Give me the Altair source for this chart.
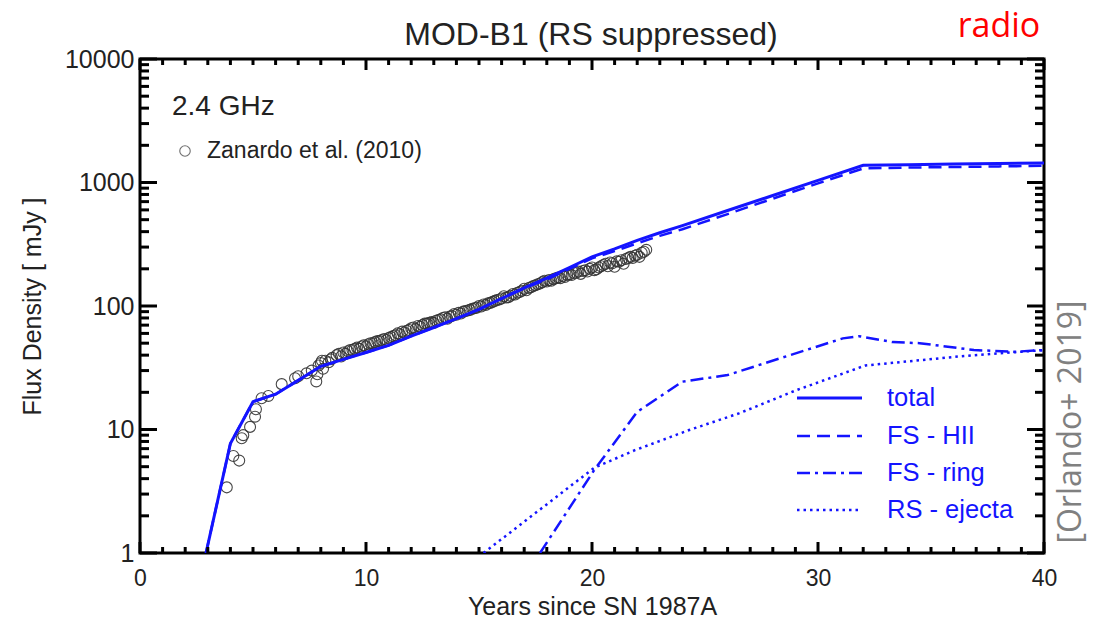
import altair as alt
import pandas as pd

# ---------------- data ----------------
zan_year = [3.84, 4.13, 4.39, 4.50, 4.57, 4.87, 5.09, 5.13, 5.38, 5.68, 6.27, 6.86, 7.0, 7.37,
            7.6, 7.8, 7.85, 7.9, 8.0, 8.1, 8.2, 8.35, 8.5, 8.7, 8.9, 9.0, 9.2, 9.4, 9.6, 9.7, 9.9,
            10.1, 10.2, 10.4, 10.6, 10.8, 10.9, 11.1, 11.3, 11.5, 11.6, 11.8, 12.0, 12.2, 12.3,
            12.5, 12.7, 12.9, 13.0, 13.2, 13.4, 13.6, 13.8, 14.0, 14.1, 14.3, 14.5, 14.7, 14.9,
            15.0, 15.2, 15.4, 15.6, 15.8, 16.0, 16.1, 16.3, 16.5, 16.7, 16.9, 17.0, 17.2, 17.4,
            17.6, 17.8, 17.9, 18.1, 18.3, 18.5, 18.7, 18.8, 19.0, 19.2, 19.4, 19.5, 19.7, 19.9,
            20.0, 20.2, 20.4, 20.6, 20.8, 21.0, 21.1, 21.3, 21.5, 21.7, 21.8, 22.0, 22.2, 22.4]
zan_flux = [3.4, 6.1, 5.6, 8.5, 9.0, 10.5, 12.7, 14.6, 17.9, 18.7, 23.3, 26, 27, 28.5,
            30, 24.5, 28, 33, 34.5, 31, 36, 35, 38, 40, 39, 42, 43, 44, 46, 45, 48,
            49, 50, 51, 52, 54, 53, 56, 58, 59, 62, 63, 66, 65, 69,
            70, 72, 74, 73, 77, 80, 79, 83, 85, 88, 90, 92, 95, 97,
            100, 103, 105, 108, 112, 115, 120, 118, 125, 128, 133, 138, 140, 145,
            150, 156, 160, 162, 165, 170, 175, 172, 180, 185, 190, 182, 195, 200,
            205, 198, 210, 220, 225, 208, 230, 235, 240, 250, 245, 260, 270, 285]
# further epochs of the same data set (dense middle part of the light curve)
zan_year2 = [8.05, 8.45, 8.8, 9.1, 9.3, 9.5, 9.8, 10.0, 10.3, 10.5,
             10.7, 11.0, 11.2, 11.4, 11.7, 11.9, 12.1, 12.4, 12.6, 12.8,
             13.1, 13.3, 13.5, 13.7, 13.9, 14.2, 14.4, 14.6, 14.8, 15.1,
             15.3, 15.5, 15.7, 15.9, 16.2, 16.4, 16.6, 16.8, 17.1, 17.3,
             17.5, 17.7, 18.0, 18.2, 18.4, 18.6, 18.9, 19.1, 19.3, 19.6,
             19.8, 20.1, 20.3, 20.5, 20.7, 20.9, 21.2, 21.4, 21.6, 21.9,
             22.1, 22.3]
zan_flux2 = [36, 37, 41, 41, 44, 45, 47, 47, 50, 52,
             53, 55, 57, 60, 61, 64, 67, 68, 72, 73,
             76, 78, 81, 82, 86, 87, 91, 93, 96, 99,
             102, 106, 110, 113, 117, 121, 124, 130, 134, 142,
             147, 152, 158, 160, 168, 168, 178, 178, 186, 192,
             190, 195, 205, 215, 210, 222, 228, 220, 245, 255,
             250, 275]

model_year = [2.92, 4.0, 5.0, 6.0, 7.0, 8.0, 9.0, 10.0, 11.0, 12.0, 13.0, 14.0, 15.0, 16.0,
              17.0, 18.0, 19.0, 20.0, 21.0, 22.0, 23.0, 24.0, 26.0, 28.0, 30.0, 32.0, 34.0,
              36.0, 38.0, 40.0]
total_flux = [1, 7.7, 16.8, 19.3, 25, 32.5, 37, 42, 48, 57, 67, 79, 94, 115,
              140, 168, 205, 250, 290, 340, 392, 448, 593, 785, 1040, 1380, 1395,
              1410, 1425, 1440]
hii_flux = [1, 7.7, 16.8, 19.3, 25, 32.5, 37, 42, 48, 57, 67, 79, 94, 115,
            139, 164, 200, 243, 278, 322, 370, 418, 555, 740, 985, 1300, 1320,
            1335, 1350, 1365]

ring_year = [17.7, 20.1, 22.0, 24.0, 26.0, 31.1, 31.8, 33.3, 34.5, 36.9, 38.7, 40.0]
ring_flux = [1, 4.7, 13.9, 24.4, 27.6, 54.7, 57, 51, 50, 44, 42.6, 44]

ej_year = [15.2, 20.1, 21.9, 24.3, 26.5, 29.1, 32.1, 36.2, 40.0]
ej_flux = [1, 4.9, 6.8, 9.9, 13.5, 21, 33, 39, 44]

x_major = [0, 10, 20, 30, 40]
y_major = [1, 10, 100, 1000, 10000]

legend_labels = ["total", "FS - HII", "FS - ring", "RS - ejecta"]

# ---------------- layout constants ----------------
W, H = 904, 494
BLUE = "#1414ff"
FONT = "Liberation Sans"

x_minor = [v for v in range(0, 41) if v % 10 != 0]
y_minor = [m * 10 ** k for k in range(4) for m in range(2, 10)]

xs = alt.Scale(domain=[0, 40], nice=False)
ys = alt.Scale(type="log", domain=[1, 10000], nice=False)

zan = pd.DataFrame({"year": zan_year + zan_year2, "flux": zan_flux + zan_flux2})
model = pd.DataFrame({"year": model_year, "total": total_flux, "hii": hii_flux})
ring = pd.DataFrame({"year": ring_year, "flux": ring_flux})
ej = pd.DataFrame({"year": ej_year, "flux": ej_flux})

base_x = alt.X("year:Q", scale=xs,
               axis=alt.Axis(values=x_major, ticks=False, domain=False, grid=False,
                             labelFlush=False,
                             labelFontSize=23, labelFont=FONT, labelColor="#222",
                             labelPadding=14, title="Years since SN 1987A",
                             titleFont=FONT, titleFontSize=25, titleFontWeight="normal",
                             titleColor="#222", titleY=53, titleBaseline="middle"))

points = alt.Chart(zan).mark_point(shape="circle", filled=False, size=120,
                                   color="#333333", strokeWidth=1.1, opacity=0.9).encode(
    x=base_x,
    y=alt.Y("flux:Q", scale=ys,
            axis=alt.Axis(values=y_major, format="d", ticks=False, domain=False, grid=False,
                          labelFlush=False,
                          labelFontSize=25, labelFont=FONT, labelColor="#222", labelPadding=6,
                          title="Flux Density [ mJy ]", titleFont=FONT, titleFontSize=25,
                          titleFontWeight="normal", titleColor="#222", titleX=-108,
                          titleY=H / 2, titleAngle=-90, titleBaseline="middle",
                          titleAlign="center")),
)

def line(df, ycol, dash, width):
    kw = dict(color=BLUE, strokeWidth=width, clip=True)
    if dash:
        kw["strokeDash"] = dash
    return alt.Chart(df).mark_line(**kw).encode(
        x=alt.X("year:Q", scale=xs), y=alt.Y(f"{ycol}:Q", scale=ys))

l_hii = line(model, "hii", [13, 7], 2.5)
l_total = line(model, "total", None, 3)
l_ring = line(ring, "flux", [13, 5, 3, 5], 2.5)
l_ej = line(ej, "flux", [2.5, 4], 2.5)

# ---------------- inward ticks ----------------
def xticks(vals, length):
    df = pd.DataFrame({"v": vals})
    b = alt.Chart(df).mark_rule(color="black", strokeWidth=3)
    bot = b.encode(x=alt.X("v:Q", scale=xs), y=alt.value(H), y2=alt.value(H - length))
    top = b.encode(x=alt.X("v:Q", scale=xs), y=alt.value(0), y2=alt.value(length))
    return bot + top

def yticks(vals, length):
    df = pd.DataFrame({"v": vals})
    b = alt.Chart(df).mark_rule(color="black", strokeWidth=3)
    left = b.encode(y=alt.Y("v:Q", scale=ys), x=alt.value(0), x2=alt.value(length))
    right = b.encode(y=alt.Y("v:Q", scale=ys), x=alt.value(W), x2=alt.value(W - length))
    return left + right

ticks = xticks(x_major, 11) + xticks(x_minor, 6) + yticks(y_major, 17) + yticks(y_minor, 9)

# ---------------- texts ----------------
def txt(s, x, y, size, color="#222", font=FONT, align="left", angle=0):
    kw = dict(fontSize=size, color=color, font=font, align=align, baseline="middle")
    if angle:
        kw["angle"] = angle
    return alt.Chart(pd.DataFrame({"t": [s]})).mark_text(**kw).encode(
        x=alt.value(x), y=alt.value(y), text="t:N")

title = txt("MOD-B1 (RS suppressed)", 591 - 140, 35 - 59, 32, align="center")
radio = txt("radio", 999 - 140, 27 - 59, 34, color="#ff0000", font="Open Sans", align="center")
orl = txt("[Orlando+ 2019]", 1071 - 140, 422 - 59, 32, color="#808080", font="Open Sans",
          align="center", angle=270)

freq = txt("2.4 GHz", 172 - 140, 107 - 59, 28)
zan_leg_pt = alt.Chart(pd.DataFrame({"a": [0]})).mark_point(
    shape="circle", filled=False, size=110, color="#333333", strokeWidth=1.1).encode(
    x=alt.value(185 - 140), y=alt.value(151 - 59))
zan_leg_tx = txt("Zanardo et al. (2010)", 207 - 140, 151 - 59, 23)

leg_rows = [398 - 59, 436 - 59, 473 - 59, 510 - 59]
leg_dash = [None, [13, 7], [13, 5, 3, 5], [2.5, 4]]
leg_layers = []
for lab, yy, dash in zip(legend_labels, leg_rows, leg_dash):
    kw = dict(color=BLUE, strokeWidth=3 if dash is None else 2.5)
    if dash:
        kw["strokeDash"] = dash
    leg_layers.append(alt.Chart(pd.DataFrame({"a": [0]})).mark_rule(**kw).encode(
        x=alt.value(797 - 140), x2=alt.value(862 - 140), y=alt.value(yy)))
    leg_layers.append(txt(lab, 887 - 140, yy, 25.5, color=BLUE))

chart = alt.layer(points, l_hii, l_total, l_ring, l_ej, ticks, title, radio, orl,
                  freq, zan_leg_pt, zan_leg_tx, *leg_layers).properties(
    width=W, height=H,
    background="white",
    autosize=alt.AutoSizeParams(type="none"),
    padding={"left": 140, "top": 59, "right": 60, "bottom": 68},
).configure_view(stroke="black", strokeWidth=3)

chart.save("out.html", embed_options={"renderer": "svg", "actions": False})
